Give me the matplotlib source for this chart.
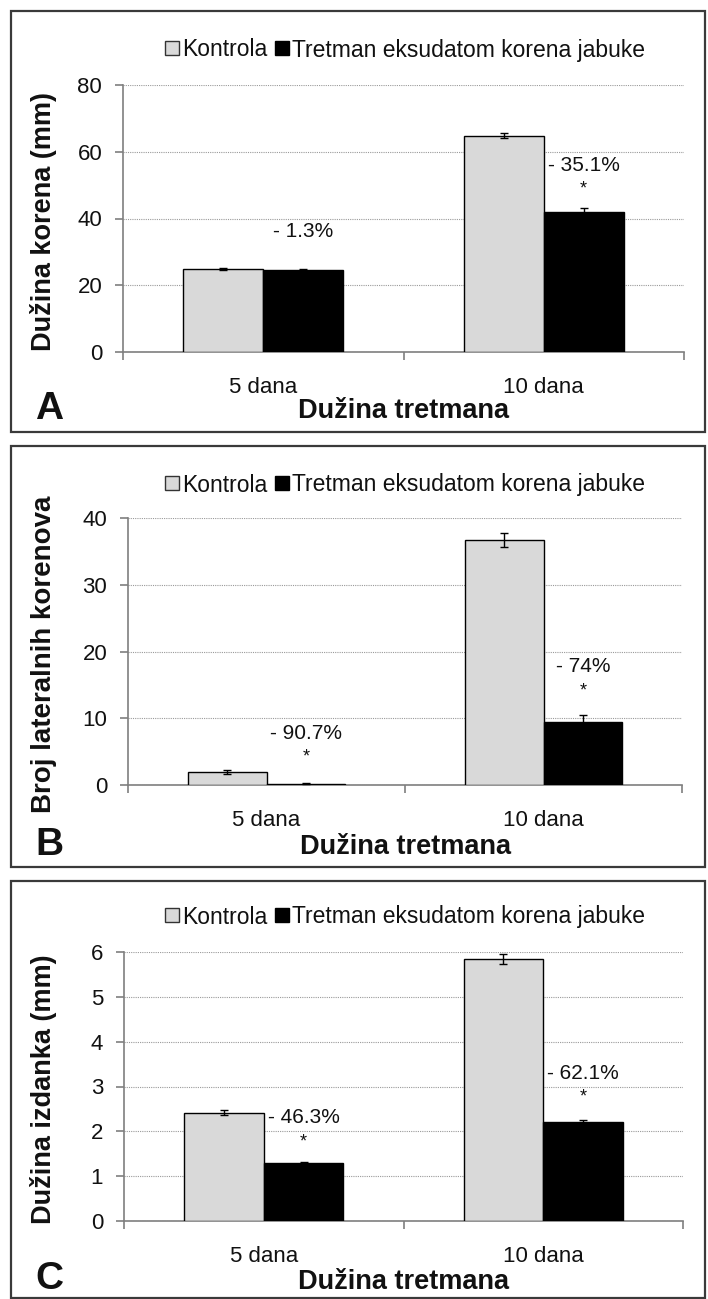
import matplotlib
matplotlib.use("Agg")
import matplotlib.pyplot as plt
from matplotlib.patches import Rectangle
from matplotlib.lines import Line2D
import numpy as np

plt.rcParams['font.family'] = ['Liberation Sans', 'DejaVu Sans']

# data
categories = ["5 dana", "10 dana"]
series_names = ["Kontrola", "Tretman eksudatom korena jabuke"]

# panel A - root length
a_control = [24.8, 64.8]
a_control_err = [0.3, 0.8]
a_treat = [24.5, 42.0]
a_treat_err = [0.3, 1.0]
a_notes = ["- 1.3%", "- 35.1%"]
a_stars = ["", "*"]

# panel B - lateral roots
b_control = [1.9, 36.7]
b_control_err = [0.3, 1.0]
b_treat = [0.18, 9.5]
b_treat_err = [0.1, 1.0]
b_notes = ["- 90.7%", "- 74%"]
b_stars = ["*", "*"]

# panel C - shoot length
c_control = [2.42, 5.84]
c_control_err = [0.06, 0.11]
c_treat = [1.30, 2.20]
c_treat_err = [0.02, 0.06]
c_notes = ["- 46.3%", "- 62.1%"]
c_stars = ["*", "*"]

W, H = 708, 1299
fig = plt.figure(figsize=(W / 100, H / 100), dpi=100)

light = "#d9d9d9"
txt = "#111111"


def fx(px):
    return px / W


def fy(py):
    return 1 - py / H


def panel(rect_px, box_px, ylabel, ylab_size, ymax, ystep, ctrl, ctrl_err, trt, trt_err,
          notes, note_y, stars, star_y, legend_y, letter, letter_y, xlab_y):
    # frame around panel
    x0, y0, x1, y1 = box_px
    fig.add_artist(Rectangle((fx(x0), fy(y1)), fx(x1) - fx(x0), fy(y0) - fy(y1),
                             transform=fig.transFigure, fill=False,
                             edgecolor="#3a3a3a", lw=1.6))
    l, t, r, b = rect_px
    ax = fig.add_axes([fx(l), fy(b), fx(r) - fx(l), fy(t) - fy(b)])
    x = np.arange(len(categories))
    w = 0.285
    ax.bar(x - w / 2, ctrl, w, color=light, edgecolor="black", lw=1.0, zorder=3,
           yerr=ctrl_err, capsize=3, error_kw=dict(lw=1, capthick=1, ecolor="black"))
    ax.bar(x + w / 2, trt, w, color="black", edgecolor="black", lw=1.0, zorder=3,
           yerr=trt_err, capsize=3, error_kw=dict(lw=1, capthick=1, ecolor="black"))
    ax.set_xlim(-0.5, 1.5)
    ax.set_ylim(0, ymax)
    ax.set_yticks(np.arange(0, ymax + ystep / 2, ystep))
    ax.yaxis.grid(True, linestyle=(0, (1, 1)), color="#9a9a9a", lw=0.8, zorder=0)
    ax.set_axisbelow(True)
    for s in ["top", "right"]:
        ax.spines[s].set_visible(False)
    for s in ["left", "bottom"]:
        ax.spines[s].set_color("#7f7f7f")
        ax.spines[s].set_linewidth(1.2)
    ax.set_xticks(x)
    ax.set_xticklabels(categories)
    ax.set_xticks([-0.5, 0.5, 1.5], minor=True)
    ax.tick_params(axis="x", which="major", length=0, pad=18, labelsize=16, labelcolor=txt)
    ax.tick_params(axis="x", which="minor", length=6, color="#7f7f7f", width=1.2)
    ax.tick_params(axis="y", length=6, color="#7f7f7f", width=1.2, pad=9,
                   labelsize=16, labelcolor=txt)
    ax.set_ylabel(ylabel, fontsize=ylab_size, fontweight="bold", color=txt)
    ax.yaxis.set_label_coords(-(l - 57) / (r - l), 0.49)
    ax.set_xlabel("Dužina tretmana", fontsize=19.5, fontweight="bold", color=txt)
    ax.xaxis.label.set_va("center")
    ax.xaxis.set_label_coords(0.5, -(xlab_y - b) / (b - t))
    for i in range(len(categories)):
        ax.text(x[i] + w / 2, note_y[i], notes[i], ha="center", va="center",
                fontsize=15, color=txt)
        if stars[i]:
            ax.annotate(stars[i], (x[i] + w / 2, star_y[i]), xytext=(0, -4),
                        textcoords="offset points", ha="center", va="center",
                        fontsize=13, color=txt)
    handles = [Line2D([], [], marker="s", ls="none", markersize=10,
                      markerfacecolor=light, markeredgecolor="#333333"),
               Line2D([], [], marker="s", ls="none", markersize=10,
                      markerfacecolor="black", markeredgecolor="black")]
    fig.legend(handles, series_names, loc="center", ncol=2, frameon=False,
               bbox_to_anchor=(fx(405), fy(legend_y)), fontsize=16.5,
               handlelength=0.6, handletextpad=0.15, columnspacing=0.35,
               labelcolor=txt)
    fig.text(fx(35), fy(letter_y), letter, fontsize=28, fontweight="bold",
             ha="left", va="center", color=txt)
    return ax


panel((123, 85, 684, 352), (11, 11, 705, 432), "Dužina korena (mm)", 19.5, 80, 20,
      a_control, a_control_err, a_treat, a_treat_err,
      a_notes, [36, 56], a_stars, [36, 50.5], 50, "A", 409, 411)
panel((128, 518, 682, 785), (11, 446, 705, 867), "Broj lateralnih korenova", 20, 40, 10,
      b_control, b_control_err, b_treat, b_treat_err,
      b_notes, [7.75, 17.75], b_stars, [5.0, 14.85], 485, "B", 845, 847)
panel((124, 952, 683, 1221), (11, 881, 705, 1298), "Dužina izdanka (mm)", 19.5, 6, 1,
      c_control, c_control_err, c_treat, c_treat_err,
      c_notes, [2.3, 3.3], c_stars, [1.89, 2.89], 917, "C", 1279, 1282)

fig.savefig("out.png", dpi=100)
